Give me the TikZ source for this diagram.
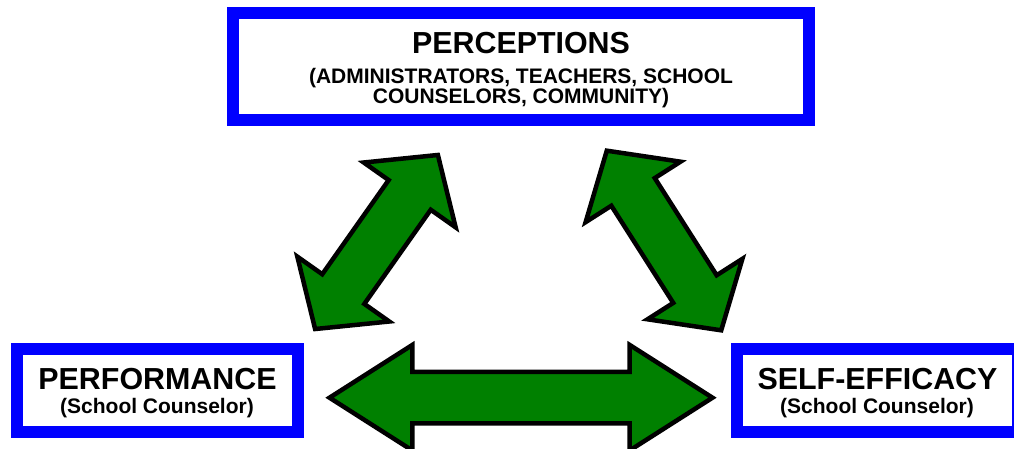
\documentclass[tikz,border=0pt]{standalone}
\usepackage{fontspec}
\setmainfont{Liberation Sans}
\usetikzlibrary{shapes.arrows}
\definecolor{frameblue}{RGB}{0,0,255}
\definecolor{arrowgreen}{RGB}{0,128,0}

\begin{document}
\begin{tikzpicture}[x=1pt, y=-1pt,
    blockbox/.style={draw=frameblue, line width=12pt, inner sep=0pt},
    headtext/.style={font=\fontsize{30.4}{32}\selectfont\bfseries, anchor=base, inner sep=0pt},
    subtext/.style={font=\fontsize{21}{22}\selectfont\bfseries, anchor=base, inner sep=0pt},
    biarrow/.style={double arrow, draw=black, fill=arrowgreen, line width=4.5pt, inner xsep=0pt, inner ysep=23.5pt, double arrow head indent=0pt}]
  \useasboundingbox (0,0) rectangle (1014,449);
  % boxes
  \node[blockbox, minimum width=576pt, minimum height=107pt] (percep) at (521,66.5) {};
  \node[blockbox, minimum width=281pt, minimum height=83pt] (perf) at (157.5,390.5) {};
  \node[blockbox, minimum width=281pt, minimum height=83pt] (self) at (877.5,390.5) {};
  % texts
  \node[headtext] (percep-head) at (521,53.3) {PERCEPTIONS};
  \node[subtext] (percep-sub1) at (521,83.3) {(ADMINISTRATORS, TEACHERS, SCHOOL};
  \node[subtext] (percep-sub2) at (521,104) {COUNSELORS, COMMUNITY)};
  \node[headtext] (perf-head) at (157.5,389) {PERFORMANCE};
  \node[subtext] (perf-sub) at (157,413.5) {(School Counselor)};
  \node[headtext] (self-head) at (877.5,389) {SELF-EFFICACY};
  \node[subtext] (self-sub) at (877,413.5) {(School Counselor)};
  % arrows
  \node[biarrow, minimum height=383pt, double arrow head extend=27pt, double arrow tip angle=65] (arr-ps) at (521,397.7) {};
  \node[biarrow, rotate=54.8, minimum height=213pt, double arrow head extend=30.5pt, double arrow tip angle=98] (arr-pp) at (376.5,242) {};
  \node[biarrow, rotate=-57.5, minimum height=213pt, double arrow head extend=30.5pt, double arrow tip angle=98] (arr-sp) at (664,240.5) {};
\end{tikzpicture}
\end{document}
